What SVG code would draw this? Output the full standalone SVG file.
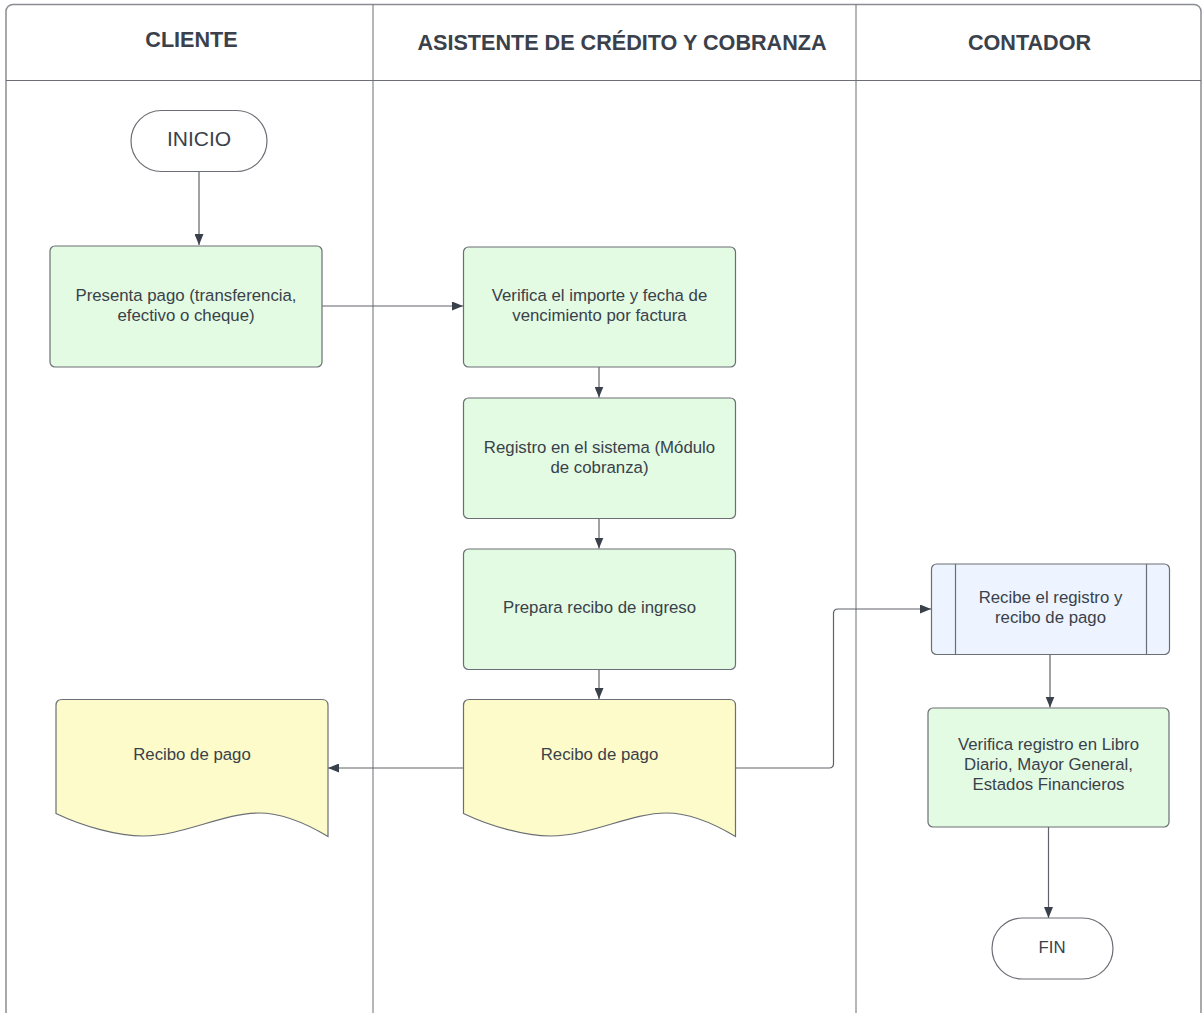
<svg xmlns="http://www.w3.org/2000/svg" width="1202" height="1013" viewBox="0 0 1202 1013">
  <style>
    .lane { fill: none; stroke: #8a8d92; stroke-width: 1.5; }
    .div { stroke: #6b6f75; stroke-width: 1; }
    .head { font-family: "Liberation Sans", Arial, sans-serif; font-size: 21.6px; font-weight: bold; fill: #3a414a; text-anchor: middle; }
    .txt { font-family: "Liberation Sans", Arial, sans-serif; font-size: 16.8px; fill: #3a414a; text-anchor: middle; }
    .term { fill: #ffffff; stroke: #6b6f75; stroke-width: 1.2; }
    .proc { fill: #e3fae3; stroke: #6b6f75; stroke-width: 1.2; }
    .doc { fill: #fcfbc9; stroke: #6b6f75; stroke-width: 1.2; }
    .sub { fill: #edf4ff; stroke: #6b6f75; stroke-width: 1.2; }
    .edge { fill: none; stroke: #5f6369; stroke-width: 1.2; marker-end: url(#arrow); }
  </style>
  <defs>
    <marker id="arrow" viewBox="0 0 11 9" refX="11" refY="4.5" markerWidth="11" markerHeight="9" markerUnits="userSpaceOnUse" orient="auto">
      <path d="M0,0 L11,4.5 L0,9 Z" fill="#3a414a"/>
    </marker>
    <!-- document shape with wavy bottom, 272 wide -->
    <path id="docShape" d="M0,114 L0,6 Q0,0 6,0 L266,0 Q272,0 272,6 L272,137 C252,125 227,113.5 203,113.5 C167,113.5 127,136.5 87,136.5 C62,136.5 27,127 0,114 Z"/>
  </defs>

  <rect width="1202" height="1013" fill="#ffffff"/>

  <!-- swimlane frame -->
  <g id="lanes">
    <rect class="lane" x="6" y="4.5" width="1195" height="1030" rx="7"/>
    <line class="div" x1="6" y1="80.5" x2="1201" y2="80.5"/>
    <line class="div" x1="373" y1="4.5" x2="373" y2="1013"/>
    <line class="div" x1="856" y1="4.5" x2="856" y2="1013"/>
    <text class="head" x="191.5" y="47">CLIENTE</text>
    <text class="head" x="622" y="49.5">ASISTENTE DE CRÉDITO Y COBRANZA</text>
    <text class="head" x="1029.5" y="49.5">CONTADOR</text>
  </g>

  <!-- connectors -->
  <g id="connectors">
    <path class="edge" d="M199,171.5 L199,245"/>
    <path class="edge" d="M322,306 L463,306"/>
    <path class="edge" d="M599,367 L599,397.5"/>
    <path class="edge" d="M599,518.5 L599,548.5"/>
    <path class="edge" d="M599,669.5 L599,699"/>
    <path class="edge" d="M463,768 L328,768"/>
    <path class="edge" d="M735,768 L829,768 Q833.5,768 833.5,763.5 L833.5,613.5 Q833.5,609 838,609 L931,609"/>
    <path class="edge" d="M1050,654.5 L1050,707.5"/>
    <path class="edge" d="M1048.5,827 L1048.5,918"/>
  </g>

  <g id="inicio">
    <rect class="term" x="131" y="110.5" width="136" height="61" rx="30.5"/>
    <text class="head" style="font-weight:normal;font-size:21px" x="199" y="145.5">INICIO</text>
  </g>

  <g id="presenta-pago">
    <rect class="proc" x="50" y="246" width="272" height="121" rx="5"/>
    <text class="txt" x="186" y="301">Presenta pago (transferencia,</text>
    <text class="txt" x="186" y="321">efectivo o cheque)</text>
  </g>

  <g id="verifica-importe">
    <rect class="proc" x="463.5" y="247" width="272" height="120" rx="5"/>
    <text class="txt" x="599.5" y="301">Verifica el importe y fecha de</text>
    <text class="txt" x="599.5" y="321">vencimiento por factura</text>
  </g>

  <g id="registro-sistema">
    <rect class="proc" x="463.5" y="398" width="272" height="120.5" rx="5"/>
    <text class="txt" x="599.5" y="452.5">Registro en el sistema (Módulo</text>
    <text class="txt" x="599.5" y="472.5">de cobranza)</text>
  </g>

  <g id="prepara-recibo">
    <rect class="proc" x="463.5" y="549" width="272" height="120.5" rx="5"/>
    <text class="txt" x="599.5" y="613">Prepara recibo de ingreso</text>
  </g>

  <g id="recibo-asistente">
    <use href="#docShape" class="doc" x="463.5" y="699.5"/>
    <text class="txt" x="599.5" y="759.5">Recibo de pago</text>
  </g>

  <g id="recibo-cliente">
    <use href="#docShape" class="doc" x="56" y="699.5"/>
    <text class="txt" x="192" y="760">Recibo de pago</text>
  </g>

  <g id="recibe-registro">
    <rect class="sub" x="931.5" y="564" width="238" height="90.5" rx="5"/>
    <line x1="955.5" y1="564" x2="955.5" y2="654.5" stroke="#6b6f75" stroke-width="1.2"/>
    <line x1="1146.5" y1="564" x2="1146.5" y2="654.5" stroke="#6b6f75" stroke-width="1.2"/>
    <text class="txt" x="1050.5" y="603">Recibe el registro y</text>
    <text class="txt" x="1050.5" y="623">recibo de pago</text>
  </g>

  <g id="verifica-libros">
    <rect class="proc" x="928" y="708" width="241" height="119" rx="5"/>
    <text class="txt" x="1048.5" y="749.5">Verifica registro en Libro</text>
    <text class="txt" x="1048.5" y="769.5">Diario, Mayor General,</text>
    <text class="txt" x="1048.5" y="789.5">Estados Financieros</text>
  </g>

  <g id="fin">
    <rect class="term" x="992" y="918" width="121" height="61" rx="30.5"/>
    <text class="txt" x="1052" y="952.5">FIN</text>
  </g>
</svg>
